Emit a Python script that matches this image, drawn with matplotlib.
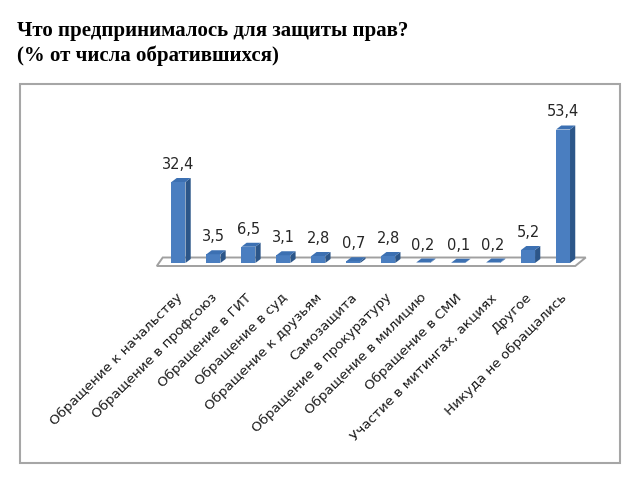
import numpy as np
import matplotlib
matplotlib.use("Agg")
import matplotlib.pyplot as plt
from matplotlib.patches import Polygon, Rectangle

# data
categories = ["Обращение к начальству", "Обращение в профсоюз", "Обращение в ГИТ",
              "Обращение в суд", "Обращение к друзьям", "Самозащита",
              "Обращение в прокуратуру", "Обращение в милицию", "Обращение в СМИ",
              "Участие в митингах, акциях", "Другое", "Никуда не обращались"]
values = [32.4, 3.5, 6.5, 3.1, 2.8, 0.7, 2.8, 0.2, 0.1, 0.2, 5.2, 53.4]

title1 = "Что предпринималось для защиты прав?"
title2 = "(% от числа обратившихся)"

front_col = "#4a7ec0"
side_col = "#2c5689"
top_col = "#3c70b2"

fig = plt.figure(figsize=(6.4, 4.8), dpi=100)

# frame around the chart
fig.patches.append(Rectangle((20/640, 17/480), 600/640, 379/480, transform=fig.transFigure,
                             fill=False, edgecolor="#a6a6a6", linewidth=1.5))

fig.text(17/640, 1-21/480, title1, family="Liberation Serif", weight="bold", size=15, va="top")
fig.text(17/640, 1-46/480, title2, family="Liberation Serif", weight="bold", size=15, va="top")

ax = fig.add_axes([161/640, 217/480, 419.5/640, 150/480])
ax.set_xlim(-0.5, len(values) - 0.5)
ax.set_ylim(0, 60)
ax.axis("off")

x = np.arange(len(values))
w = 0.4
dx = 0.15   # depth offset (x units)
dy = 1.6    # depth offset (y units)

# floor
floor = Polygon([(-0.62, -1.2), (11.35, -1.2), (11.65, 2.2), (-0.45, 2.2)],
                closed=True, facecolor="white", edgecolor="#a0a0a0", linewidth=1.4, clip_on=False)
ax.add_patch(floor)

ax.bar(x, values, width=w, color=front_col, zorder=3)
for xi, v in zip(x, values):
    side = Polygon([(xi + w/2, 0), (xi + w/2 + dx, dy), (xi + w/2 + dx, v + dy), (xi + w/2, v)],
                   closed=True, facecolor=side_col, edgecolor="none", zorder=3, clip_on=False)
    top = Polygon([(xi - w/2, v), (xi + w/2, v), (xi + w/2 + dx, v + dy), (xi - w/2 + dx, v + dy)],
                  closed=True, facecolor=top_col, edgecolor="none", zorder=4, clip_on=False)
    ax.add_patch(side)
    ax.add_patch(top)
    ax.annotate(f"{v}".replace(".", ","), (xi, v + dy), xytext=(0, 6), textcoords="offset pixels",
                ha="center", va="bottom", size=10.5, color="#262626", family="DejaVu Sans")

for xi, lab in zip(x, categories):
    ax.annotate(lab, (xi, 0), xytext=(-3, -28), textcoords="offset pixels",
                ha="right", va="top", rotation=45, rotation_mode="anchor",
                size=9.7, color="#1a1a1a", family="DejaVu Sans", annotation_clip=False)

fig.savefig("out.png", dpi=100)
